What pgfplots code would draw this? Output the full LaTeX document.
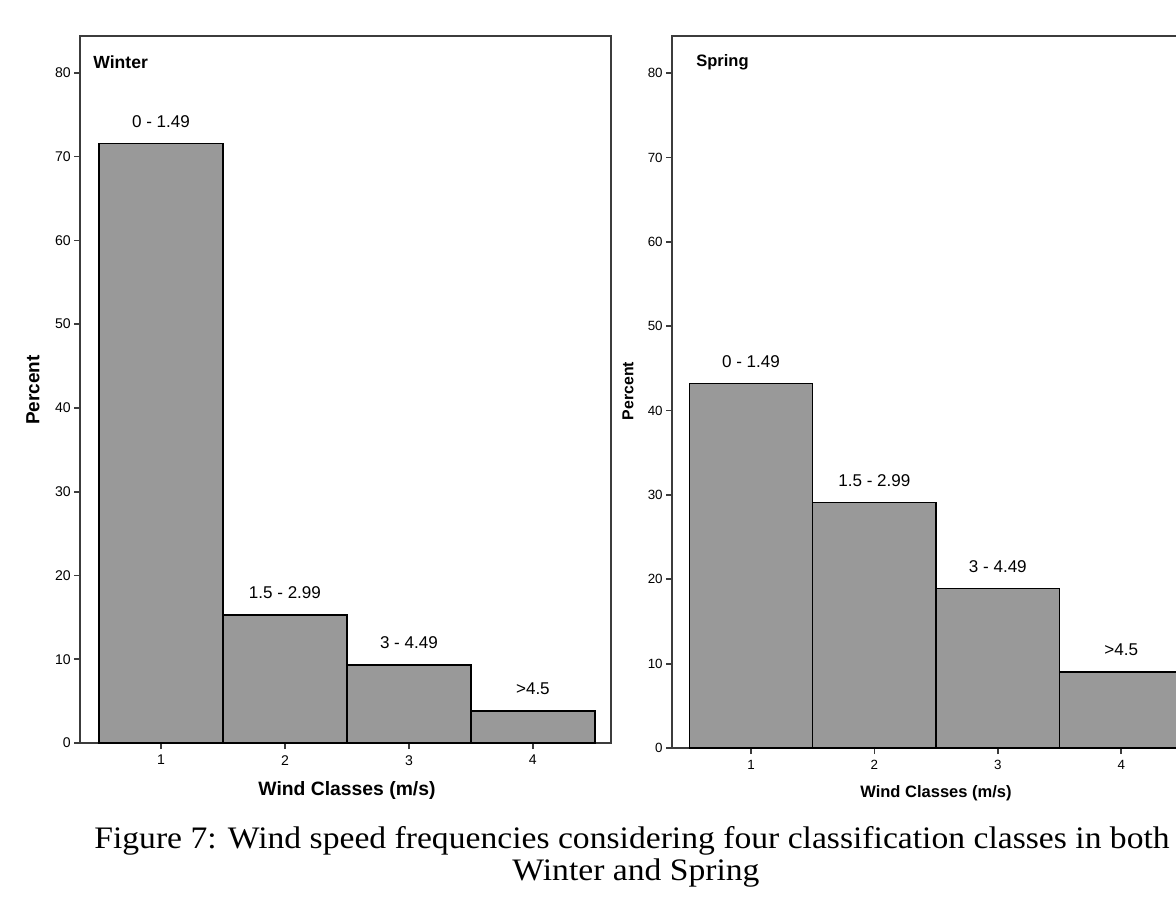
\documentclass[border=0pt]{standalone}
\usepackage{fontspec}
\setmainfont{Liberation Sans}
\newfontfamily\capfont[FakeStretch=1.075]{Liberation Serif}
\usepackage{pgfplots}
\pgfplotsset{compat=1.18}

\definecolor{barfill}{RGB}{153,153,153}
\definecolor{axisline}{RGB}{60,60,60}

\pgfplotsset{
  windhist/.style={
    scale only axis,
    anchor=south west,
    clip=false,
    ymin=0, ymax=84.4,
    ybar, bar width=1, bar shift=0pt,
    xtick={1,2,3,4}, ytick={0,10,...,80},
    tick align=outside, tick pos=left,
    major tick length=1.2mm,
    axis line style={axisline, line width=0.4mm},
    every tick/.style={axisline, line width=0.35mm},
    yticklabel style={inner sep=0.6mm},
    /pgf/number format/assume math mode=true,
    nodes near coords, point meta=explicit symbolic,
    every node near coord/.style={anchor=center, yshift=4.4mm, black,
      font=\fontsize{9.7}{11}\selectfont},
  },
  windbar/.style={fill=barfill, draw=black, line width=0.28mm},
}

\begin{document}
\begin{tikzpicture}
% Winter
\begin{axis}[windhist, at={(16mm,31.4mm)}, width=106.2mm, height=141.4mm,
  xmin=0.347, xmax=4.63,
  tick label style={font=\fontsize{8}{9}\selectfont}]
\addplot[windbar] coordinates {(1,71.6) [0 - 1.49] (2,15.3) [1.5 - 2.99] (3,9.3) [3 - 4.49] (4,3.8) [>4.5]};
\end{axis}
% Spring
\begin{axis}[windhist, at={(134.4mm,30.4mm)}, width=105.4mm, height=142.4mm,
  xmin=0.36, xmax=4.63,
  tick label style={font=\fontsize{7.6}{9}\selectfont}]
\addplot[windbar] coordinates {(1,43.2) [0 - 1.49] (2,29.1) [1.5 - 2.99] (3,18.9) [3 - 4.49] (4,9.0) [>4.5]};
\end{axis}

% panel titles and axis labels
\node[anchor=west, font=\bfseries\fontsize{10}{12}\selectfont, inner sep=0pt] at (18.6mm,167.6mm) {Winter};
\node[anchor=west, font=\bfseries\fontsize{9.4}{11}\selectfont, inner sep=0pt] at (139.2mm,167.6mm) {Spring};
\node[rotate=90, font=\bfseries\fontsize{10.8}{12}\selectfont, inner sep=0pt] at (6.6mm,102mm) {Percent};
\node[rotate=90, font=\bfseries\fontsize{9}{11}\selectfont, inner sep=0pt] at (125.6mm,101.8mm) {Percent};
\node[font=\bfseries\fontsize{11}{13}\selectfont, inner sep=0pt] at (69.4mm,22mm) {Wind Classes (m/s)};
\node[font=\bfseries\fontsize{9.4}{11}\selectfont, inner sep=0pt] at (187.2mm,21.4mm) {Wind Classes (m/s)};

% caption
\node[anchor=base, font=\capfont\fontsize{17.8}{21}\selectfont, inner sep=0pt] at (126.4mm,10.4mm)
  {Figure 7: Wind speed frequencies considering four classification classes in both};
\node[anchor=base, font=\capfont\fontsize{17.8}{21}\selectfont, inner sep=0pt] at (127.2mm,4mm)
  {Winter and Spring};

\pgfresetboundingbox
\path[use as bounding box] (0,0) rectangle (235.2mm,180mm);
\end{tikzpicture}
\end{document}
